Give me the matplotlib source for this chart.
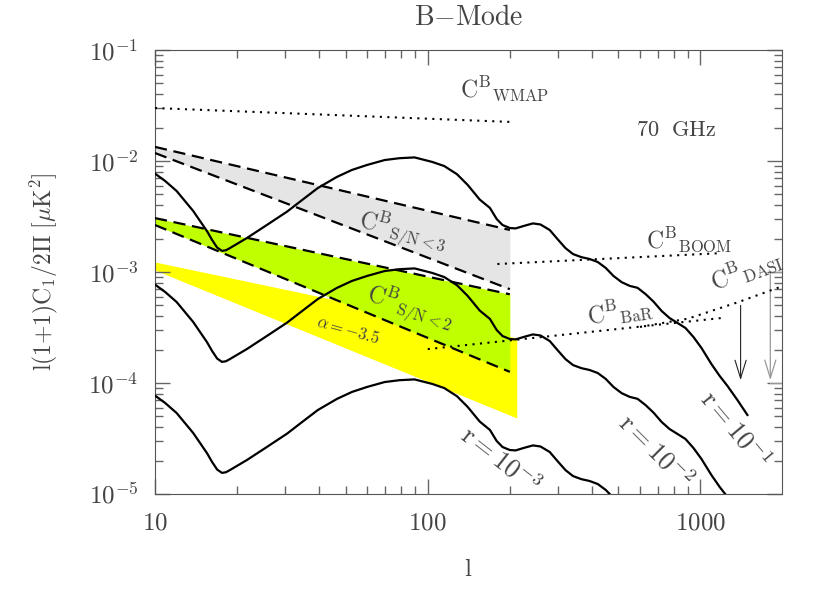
import numpy as np
import matplotlib
matplotlib.use("Agg")
import matplotlib.pyplot as plt
from matplotlib.ticker import FixedLocator, FixedFormatter, NullFormatter, FuncFormatter

plt.rcParams['mathtext.fontset'] = 'cm'

# B-mode spectrum for r = 0.1; other curves scale with r
ell = [10, 10.9, 12, 13.8, 15.5, 16.2, 16.9, 17.6, 18.2, 18.8, 21.7, 25.7, 30.5, 34,
       39.5, 46.4, 52.7, 59.8, 69.5, 78.8, 89.5, 104, 115, 128, 140, 155, 169, 179,
       188, 200, 210, 225, 243, 259, 280, 299, 320, 341, 366, 392, 420, 449, 480,
       514, 550, 588, 630, 673, 720, 770, 824, 881, 942, 1008, 1097, 1175, 1256,
       1367, 1486]
clbb_r01 = [7.7e-3, 6.6e-3, 5.37e-3, 3.55e-3, 2.34e-3, 1.94e-3, 1.66e-3, 1.55e-3,
            1.57e-3, 1.64e-3, 2.02e-3, 2.65e-3, 3.5e-3, 4.3e-3, 5.7e-3, 7.18e-3,
            8.3e-3, 9.2e-3, 1.02e-2, 1.06e-2, 1.077e-2, 9.8e-3, 9.0e-3, 7.6e-3,
            6.1e-3, 4.5e-3, 3.78e-3, 3.0e-3, 2.65e-3, 2.49e-3, 2.47e-3, 2.6e-3,
            2.74e-3, 2.68e-3, 2.39e-3, 1.98e-3, 1.64e-3, 1.45e-3, 1.36e-3, 1.31e-3,
            1.23e-3, 1.09e-3, 9.2e-4, 8.1e-4, 7.5e-4, 7.2e-4, 6.3e-4, 5.4e-4, 4.46e-4,
            3.85e-4, 3.47e-4, 3.13e-4, 2.6e-4, 2.07e-4, 1.48e-4, 1.16e-4, 9.4e-5,
            7.0e-5, 5.15e-5]
r_values = [1e-1, 1e-2, 1e-3]

# foreground residual bands (power laws, end points at l=10 and l=200)
band_ell = [10, 200]
sn3_upper = [1.34e-2, 2.39e-3]
sn3_lower = [1.18e-2, 7.0e-4]
sn2_upper = [3.06e-3, 6.3e-4]
sn2_lower = [2.65e-3, 1.26e-4]
alpha_ell = [10, 212]
alpha_upper = [1.23e-3, 2.54e-4]
alpha_lower = [1.04e-3, 4.84e-5]

# experimental sensitivities (dotted)
wmap_ell, wmap_cl = [10, 200], [3.0e-2, 2.25e-2]
boom_ell, boom_cl = [180, 1195], [1.18e-3, 1.48e-3]
bar_ell, bar_cl = [100, 1195], [2.02e-4, 3.85e-4]
dasi_ell, dasi_cl = [600, 900, 1390, 1950], [3.2e-4, 3.8e-4, 5.4e-4, 7.3e-4]

txt = '#444444'
fig = plt.figure(figsize=(8.3, 5.93), dpi=100)
ax = fig.add_axes([155/830, 99/593, 627/830, 444/593])
ax.set_xscale('log')
ax.set_yscale('log')
ax.set_xlim(10, 1990)
ax.set_ylim(1e-5, 1e-1)

ax.fill_between(alpha_ell, alpha_lower, alpha_upper, color='#ffff00', lw=0, zorder=1)
ax.fill_between(band_ell, sn2_lower, sn2_upper, color='#bfff00', lw=0, zorder=2)
ax.fill_between(band_ell, sn3_lower, sn3_upper, color='#e5e5e5', lw=0, zorder=2)

for yy in (sn3_upper, sn3_lower, sn2_upper, sn2_lower):
    ax.plot(band_ell, yy, color='k', lw=1.6, dashes=(5.5, 3), zorder=4)

for r in r_values:
    ax.plot(ell, np.array(clbb_r01) * r / 0.1, color='k', lw=1.6, zorder=5)

for xx, yy in ((wmap_ell, wmap_cl), (boom_ell, boom_cl), (bar_ell, bar_cl), (dasi_ell, dasi_cl)):
    ax.plot(xx, yy, color='k', lw=1.5, dashes=(1, 2.6), dash_capstyle='butt', zorder=4)

# DASI upper limits
ax.annotate('', xy=(1403, 1e-4), xytext=(1403, 5.3e-4),
            arrowprops=dict(arrowstyle='->,head_length=1.3,head_width=0.4', color='#222222', lw=0.8))
ax.annotate('', xy=(1803, 1e-4), xytext=(1803, 1e-3),
            arrowprops=dict(arrowstyle='->,head_length=1.3,head_width=0.4', color='#999999', lw=0.9))
ax.plot([1803, 1990], [1e-3, 1e-3], color='#999999', lw=0.9)
ax.plot([1803, 1990], [1e-4, 1e-4], color='#999999', lw=0.9)

# labels
ax.text(192, 4.5e-2, r'$\mathrm{C^{B}{}_{WMAP}}$', fontsize=17, color=txt, ha='center', va='center')
ax.text(817, 1.9e-2, r'$\mathrm{70\ \ GHz}$', fontsize=16, color=txt, ha='center', va='center')
ax.text(81, 2.3e-3, r'$\mathrm{C^{B}{}_{S/N<3}}$', fontsize=17, color=txt, ha='center', va='center', rotation=-14)
ax.text(86, 4.7e-4, r'$\mathrm{C^{B}{}_{S/N<2}}$', fontsize=17, color=txt, ha='center', va='center', rotation=-18)
ax.text(51, 3.0e-4, r'$\alpha{=}{-}3.5$', fontsize=12, color=txt, ha='center', va='center', rotation=-16)
ax.text(912, 1.95e-3, r'$\mathrm{C^{B}{}_{BOOM}}$', fontsize=17, color=txt, ha='center', va='center')
ax.text(505, 4.4e-4, r'$\mathrm{C^{B}{}_{BaR}}$', fontsize=17, color=txt, ha='center', va='center', rotation=8)
ax.text(1470, 1.04e-3, r'$\mathrm{C^{B}{}_{DASI}}$', fontsize=17, color=txt, ha='center', va='center', rotation=20)
ax.text(1334, 3.8e-5, r'$\mathrm{r{=}10^{-1}}$', fontsize=19, color=txt, ha='center', va='center', rotation=-50)
ax.text(677, 2.4e-5, r'$\mathrm{r{=}10^{-2}}$', fontsize=19, color=txt, ha='center', va='center', rotation=-45)
ax.text(184, 2.0e-5, r'$\mathrm{r{=}10^{-3}}$', fontsize=19, color=txt, ha='center', va='center', rotation=-38)

ax.set_title(r'$\mathrm{B{-}Mode}$', fontsize=20, color=txt, pad=18)
ax.set_xlabel(r'$\mathrm{l}$', fontsize=18, color=txt, labelpad=16)
ax.set_ylabel(r'$\mathrm{l(1{+}1)C_{1}/2\Pi\ [\mu K^{2}]}$', fontsize=17, color=txt, labelpad=20)

ax.xaxis.set_major_locator(FixedLocator([10, 100, 1000]))
ax.xaxis.set_major_formatter(FixedFormatter([r'$\mathrm{10}$', r'$\mathrm{100}$', r'$\mathrm{1000}$']))
ax.xaxis.set_minor_formatter(NullFormatter())
ax.yaxis.set_major_formatter(FuncFormatter(lambda v, p: r'$\mathrm{10^{%d}}$' % round(np.log10(v))))
ax.yaxis.set_minor_formatter(NullFormatter())
ax.tick_params(which='both', direction='in', top=True, right=True, colors='#666666', labelcolor=txt)
ax.tick_params(which='major', length=11, width=1, labelsize=18, pad=12)
ax.tick_params(which='minor', length=6, width=1)
for s in ax.spines.values():
    s.set_color('#555555')

fig.savefig('out.png', dpi=100)
